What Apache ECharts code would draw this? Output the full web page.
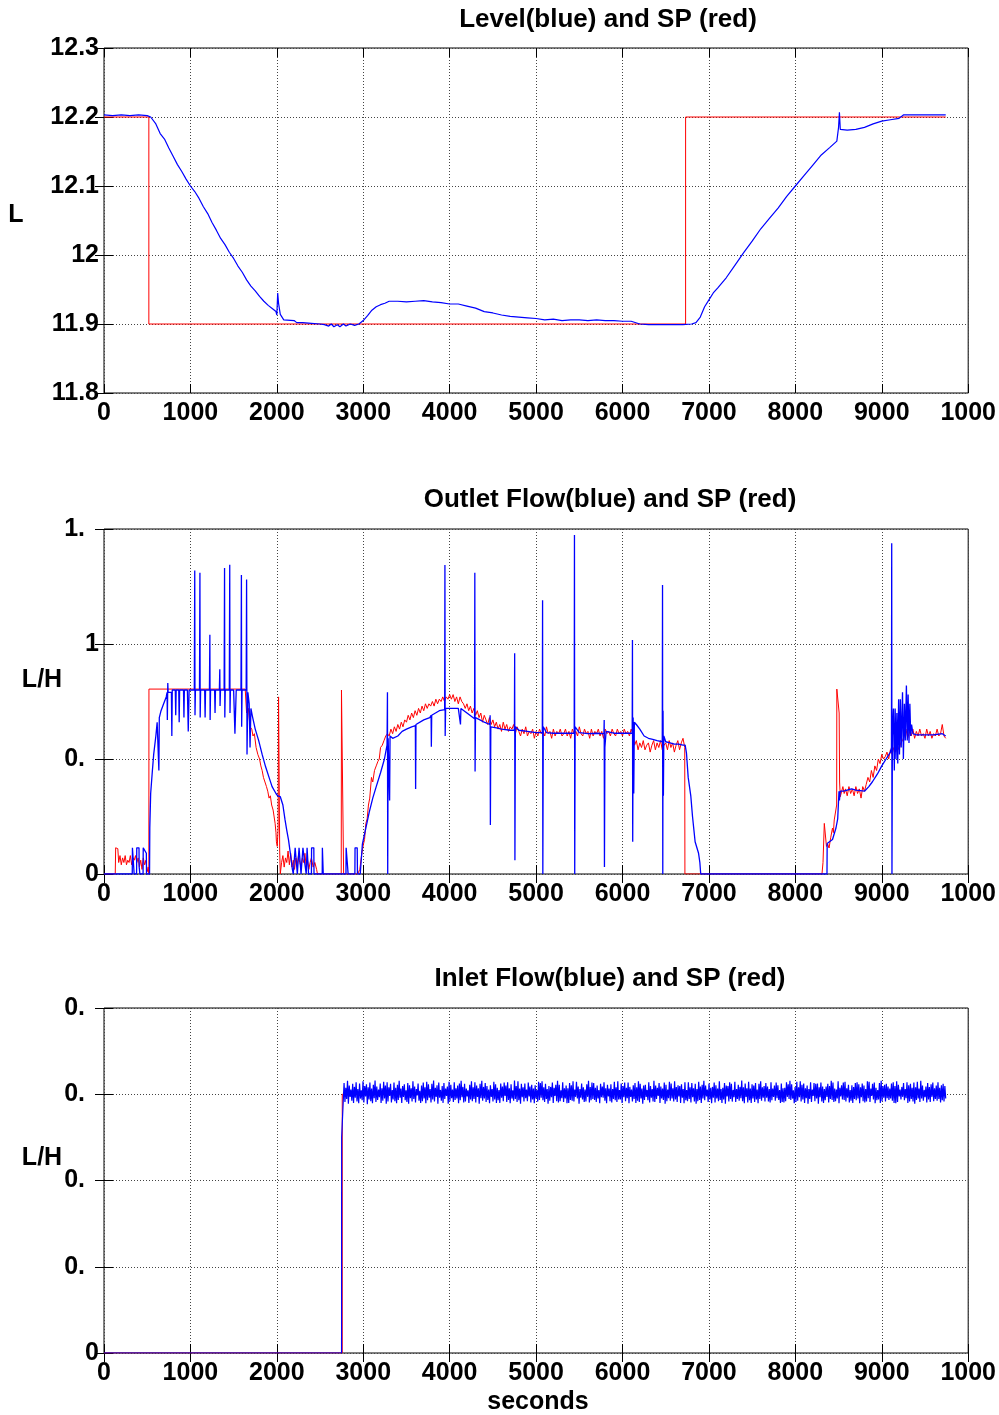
<!DOCTYPE html>
<html>
<head>
<meta charset="utf-8">
<script src="https://cdn.jsdelivr.net/npm/echarts@6/dist/echarts.min.js"></script>
<style>
html,body{margin:0;padding:0;background:#fff;}
#chart{width:999px;height:1415px;}
</style>
</head>
<body>
<div id="chart"></div>
<script>
// ---------- tick labels ----------
const xTickLabels = ['0','1000','2000','3000','4000','5000','6000','7000','8000','9000','1000'];
const levelTickLabels = ['11.8','11.9','12','12.1','12.2','12.3'];
const outletTickLabels = ['0','0.','1','1.'];
const inletTickLabels = ['0','0.','0.','0.','0.'];

// ---------- titles ----------
const titles = ['Level(blue) and SP (red)','Outlet Flow(blue) and SP (red)','Inlet Flow(blue) and SP (red)'];
const yNames = ['L','L/H','L/H'];
const xName = 'seconds';

// ---------- Level plot [seconds, value] ----------
const levelSP = [[0,12.2],[519,12.2],[519,11.9],[6730,11.9],[6730,12.2],[9740,12.2]];
const levelPV = [[0,12.203],[100,12.202],[200,12.203],[300,12.202],[400,12.203],[500,12.202],[540,12.2],[600,12.19],[650,12.176],[700,12.168],[750,12.155],[800,12.143],[850,12.131],[900,12.121],[950,12.11],[1000,12.1],[1050,12.092],[1100,12.082],[1150,12.07],[1200,12.06],[1250,12.047],[1300,12.036],[1350,12.024],[1400,12.015],[1450,12.004],[1500,11.995],[1550,11.984],[1600,11.975],[1650,11.964],[1700,11.955],[1750,11.948],[1800,11.94],[1850,11.933],[1900,11.927],[1950,11.922],[1990,11.918],[2000,11.913],[2010,11.945],[2020,11.93],[2040,11.914],[2080,11.906],[2100,11.905],[2200,11.905],[2230,11.902],[2300,11.902],[2400,11.901],[2500,11.9],[2550,11.899],[2600,11.897],[2630,11.9],[2660,11.896],[2700,11.899],[2730,11.896],[2770,11.9],[2800,11.897],[2850,11.9],[2900,11.898],[2950,11.9],[3000,11.905],[3050,11.912],[3100,11.92],[3150,11.925],[3200,11.928],[3250,11.93],[3300,11.933],[3400,11.933],[3500,11.932],[3600,11.933],[3700,11.934],[3800,11.932],[3900,11.931],[4000,11.929],[4100,11.929],[4200,11.926],[4300,11.923],[4400,11.918],[4500,11.916],[4600,11.913],[4700,11.911],[4800,11.91],[4900,11.909],[5000,11.908],[5100,11.906],[5200,11.907],[5300,11.905],[5400,11.906],[5500,11.906],[5600,11.905],[5700,11.906],[5800,11.905],[5900,11.905],[6000,11.904],[6100,11.904],[6200,11.9],[6300,11.899],[6400,11.899],[6500,11.899],[6600,11.899],[6700,11.899],[6800,11.9],[6850,11.902],[6900,11.91],[6950,11.925],[7000,11.935],[7050,11.945],[7100,11.952],[7200,11.967],[7300,11.985],[7400,12.003],[7500,12.02],[7600,12.038],[7700,12.053],[7800,12.068],[7900,12.085],[8000,12.1],[8100,12.115],[8200,12.13],[8300,12.145],[8400,12.156],[8480,12.165],[8500,12.185],[8510,12.207],[8520,12.182],[8600,12.181],[8700,12.182],[8800,12.185],[8900,12.19],[9000,12.194],[9100,12.196],[9200,12.198],[9250,12.203],[9300,12.203],[9400,12.203],[9500,12.203],[9600,12.203],[9740,12.203]];

// ---------- Outlet flow plot [seconds, value] ----------
const outletSP = [[0,0],[130,0],[135,0.114],[160,0.11],[170,0.05],[185,0.08],[200,0.04],[215,0.07],[230,0.05],[245,0.08],[260,0.04],[275,0.06],[290,0.05],[305,0.08],[320,0.04],[335,0.07],[350,0.06],[365,0.08],[380,0.05],[395,0.07],[410,0.03],[425,0.06],[440,0.02],[455,0.07],[470,0.04],[485,0.06],[500,0.01],[512,0.03],[519,0],[520,0.804],[1634,0.804],[1650,0.7],[1670,0.72],[1690,0.64],[1710,0.63],[1724,0.6],[1740,0.61],[1760,0.55],[1780,0.52],[1800,0.5],[1815,0.47],[1830,0.45],[1845,0.42],[1860,0.42],[1880,0.38],[1895,0.36],[1910,0.33],[1925,0.34],[1940,0.3],[1957,0.278],[1970,0.28],[1980,0.22],[1990,0.18],[1995,0.14],[2005,0.12],[2015,0.2],[2020,0.77],[2028,0.77],[2033,0.1],[2040,0],[2055,0.05],[2070,0.08],[2085,0.03],[2100,0.07],[2115,0.05],[2130,0.1],[2145,0.04],[2160,0.09],[2175,0.03],[2190,0.06],[2205,0.02],[2220,0.07],[2235,0.04],[2250,0.08],[2265,0.05],[2280,0.03],[2295,0.07],[2310,0.05],[2325,0.09],[2340,0.03],[2355,0.06],[2370,0.02],[2385,0.05],[2400,0.07],[2420,0.03],[2440,0.05],[2460,0.02],[2470,0],[2745,0],[2748,0.8],[2770,0.8],[2773,0],[2935,0],[2960,0.02],[2980,0.08],[3000,0.126],[3015,0.15],[3030,0.22],[3045,0.24],[3060,0.3],[3075,0.33],[3095,0.42],[3110,0.4],[3130,0.45],[3150,0.47],[3170,0.49],[3185,0.5],[3200,0.55],[3220,0.56],[3240,0.58],[3260,0.6],[3280,0.61],[3300,0.6],[3320,0.63],[3340,0.61],[3360,0.64],[3380,0.62],[3400,0.65],[3420,0.63],[3440,0.66],[3460,0.64],[3480,0.67],[3500,0.66],[3520,0.69],[3540,0.67],[3560,0.7],[3580,0.68],[3600,0.71],[3620,0.69],[3640,0.72],[3660,0.7],[3680,0.73],[3700,0.71],[3720,0.74],[3740,0.72],[3760,0.74],[3780,0.73],[3800,0.75],[3820,0.73],[3840,0.76],[3860,0.74],[3880,0.76],[3900,0.75],[3920,0.77],[3940,0.75],[3960,0.77],[3980,0.76],[4000,0.78],[4020,0.76],[4040,0.78],[4060,0.75],[4080,0.77],[4100,0.74],[4120,0.77],[4140,0.75],[4160,0.74],[4180,0.72],[4200,0.74],[4220,0.71],[4240,0.73],[4260,0.7],[4280,0.72],[4300,0.69],[4320,0.71],[4340,0.68],[4360,0.7],[4380,0.66],[4400,0.69],[4420,0.67],[4440,0.65],[4460,0.68],[4480,0.65],[4500,0.67],[4520,0.64],[4540,0.66],[4560,0.63],[4580,0.65],[4600,0.62],[4620,0.66],[4640,0.63],[4660,0.65],[4680,0.62],[4700,0.64],[4720,0.63],[4740,0.65],[4760,0.61],[4780,0.64],[4800,0.62],[4820,0.6],[4840,0.63],[4860,0.61],[4880,0.64],[4900,0.6],[4920,0.62],[4940,0.61],[4960,0.63],[4980,0.59],[5000,0.62],[5020,0.6],[5040,0.63],[5060,0.61],[5080,0.62],[5100,0.6],[5120,0.64],[5140,0.61],[5160,0.62],[5180,0.59],[5200,0.63],[5220,0.6],[5240,0.62],[5260,0.61],[5280,0.63],[5300,0.6],[5320,0.61],[5340,0.63],[5360,0.6],[5380,0.62],[5400,0.59],[5420,0.63],[5440,0.61],[5460,0.62],[5480,0.6],[5500,0.64],[5520,0.61],[5540,0.6],[5560,0.63],[5580,0.61],[5600,0.62],[5620,0.59],[5640,0.63],[5660,0.6],[5680,0.62],[5700,0.61],[5720,0.63],[5740,0.6],[5760,0.62],[5780,0.59],[5800,0.63],[5820,0.61],[5840,0.62],[5860,0.6],[5880,0.63],[5900,0.61],[5920,0.6],[5940,0.63],[5960,0.61],[5980,0.62],[6000,0.6],[6020,0.63],[6040,0.61],[6060,0.62],[6080,0.6],[6100,0.63],[6120,0.61],[6140,0.56],[6160,0.58],[6180,0.54],[6200,0.57],[6220,0.55],[6240,0.58],[6260,0.54],[6280,0.56],[6300,0.57],[6320,0.53],[6340,0.56],[6360,0.58],[6380,0.54],[6400,0.57],[6420,0.55],[6440,0.58],[6460,0.54],[6480,0.56],[6500,0.57],[6520,0.54],[6540,0.58],[6560,0.55],[6580,0.57],[6600,0.53],[6620,0.56],[6640,0.58],[6660,0.54],[6680,0.57],[6700,0.59],[6715,0.56],[6720,0.55],[6722,0],[8308,0],[8320,0.05],[8335,0.22],[8345,0.22],[8360,0.12],[8375,0.13],[8390,0.113],[8410,0.16],[8430,0.2],[8440,0.18],[8450,0.235],[8465,0.24],[8478,0.3],[8480,0.804],[8500,0.804],[8507,0.7],[8512,0.4],[8520,0.336],[8535,0.33],[8550,0.38],[8565,0.35],[8580,0.37],[8600,0.34],[8620,0.38],[8640,0.35],[8660,0.37],[8680,0.34],[8700,0.38],[8720,0.35],[8740,0.37],[8760,0.33],[8780,0.38],[8800,0.36],[8820,0.39],[8840,0.42],[8860,0.4],[8880,0.45],[8900,0.42],[8920,0.47],[8940,0.45],[8960,0.5],[8980,0.48],[9000,0.52],[9020,0.5],[9040,0.51],[9060,0.53],[9080,0.5],[9100,0.54],[9120,0.52],[9140,0.55],[9160,0.53],[9180,0.56],[9200,0.54],[9220,0.57],[9240,0.58],[9260,0.6],[9280,0.63],[9300,0.59],[9320,0.62],[9340,0.6],[9360,0.63],[9380,0.59],[9400,0.62],[9420,0.6],[9440,0.63],[9460,0.6],[9480,0.61],[9500,0.59],[9520,0.63],[9540,0.6],[9560,0.62],[9580,0.59],[9600,0.61],[9620,0.6],[9640,0.63],[9660,0.6],[9680,0.61],[9700,0.65],[9720,0.6],[9740,0.59]];

const outletPV = [[0,0],[327,0],[329,0.114],[347,0.114],[349,0],[377,0],[379,0.114],[405,0.114],[407,0.03],[415,0],[452,0],[454,0.114],[470,0.114],[475,0.1],[490,0.09],[492,0],[527,0],[530,0.2],[540,0.35],[560,0.45],[575,0.52],[600,0.6],[615,0.66],[630,0.66],[635,0.45],[640,0.68],[660,0.71],[690,0.74],[720,0.77],[730,0.79],[733,0.67],[738,0.83],[742,0.79],[780,0.79],[785,0.6],[790,0.8],[825,0.8],[830,0.69],[835,0.8],[865,0.8],[870,0.66],[875,0.8],[920,0.8],[925,0.68],[930,0.8],[965,0.8],[975,0.62],[985,0.8],[1045,0.8],[1050,1.32],[1053,0.69],[1058,0.8],[1105,0.8],[1110,1.31],[1113,0.68],[1118,0.8],[1165,0.8],[1170,0.68],[1175,0.8],[1220,0.8],[1225,1.04],[1228,0.67],[1233,0.8],[1280,0.8],[1285,0.7],[1290,0.8],[1335,0.8],[1340,0.89],[1343,0.73],[1348,0.8],[1390,0.8],[1395,1.33],[1398,0.68],[1403,0.8],[1450,0.8],[1455,1.345],[1458,0.7],[1463,0.8],[1500,0.8],[1515,0.61],[1530,0.8],[1585,0.8],[1590,1.3],[1593,0.64],[1598,0.8],[1645,0.8],[1650,1.28],[1655,0.52],[1665,0.79],[1680,0.74],[1690,0.55],[1700,0.72],[1715,0.69],[1750,0.63],[1790,0.58],[1830,0.52],[1870,0.466],[1910,0.42],[1945,0.38],[1990,0.35],[2010,0.34],[2040,0.336],[2070,0.3],[2095,0.235],[2115,0.19],[2135,0.148],[2160,0.08],[2180,0.02],[2190,0],[2210,0],[2212,0.114],[2235,0.114],[2237,0],[2255,0],[2257,0.114],[2278,0.114],[2280,0],[2300,0],[2302,0.114],[2320,0.114],[2322,0.05],[2340,0],[2348,0],[2350,0.114],[2365,0.114],[2367,0],[2400,0],[2402,0.114],[2428,0.114],[2430,0],[2525,0],[2527,0.114],[2535,0.114],[2537,0],[2800,0],[2802,0.114],[2822,0.114],[2825,0],[2903,0],[2905,0.114],[2930,0.114],[2933,0],[2965,0],[2990,0.13],[3030,0.2],[3070,0.27],[3110,0.33],[3150,0.38],[3200,0.44],[3245,0.5],[3275,0.56],[3280,0.79],[3283,0],[3288,0.59],[3300,0.594],[3305,0.32],[3310,0.6],[3340,0.59],[3400,0.6],[3450,0.62],[3500,0.63],[3560,0.64],[3603,0.645],[3606,0.37],[3610,0.65],[3700,0.67],[3770,0.68],[3785,0.69],[3788,0.553],[3792,0.69],[3880,0.71],[3942,0.715],[3945,1.343],[3948,0.6],[3953,0.72],[4010,0.72],[4100,0.72],[4122,0.72],[4125,0.65],[4130,0.72],[4200,0.7],[4288,0.675],[4291,1.31],[4294,0.446],[4299,0.68],[4350,0.67],[4400,0.66],[4465,0.65],[4468,0.69],[4471,0.213],[4476,0.64],[4540,0.635],[4600,0.63],[4700,0.625],[4749,0.625],[4752,0.96],[4755,0.06],[4760,0.64],[4800,0.625],[4900,0.62],[5000,0.615],[5072,0.615],[5075,1.19],[5078,0],[5083,0.64],[5120,0.615],[5200,0.612],[5300,0.612],[5441,0.612],[5444,1.474],[5447,0],[5452,0.64],[5500,0.615],[5600,0.61],[5700,0.612],[5785,0.61],[5788,0.67],[5791,0.03],[5796,0.55],[5810,0.62],[5900,0.612],[6000,0.612],[6112,0.612],[6115,1.017],[6118,0.14],[6123,0.68],[6130,0.35],[6137,0.66],[6160,0.65],[6200,0.63],[6250,0.6],[6300,0.59],[6350,0.585],[6400,0.58],[6460,0.575],[6463,1.257],[6466,0],[6469,0.71],[6473,0.34],[6478,0.6],[6500,0.575],[6550,0.57],[6600,0.565],[6650,0.565],[6700,0.56],[6725,0.56],[6740,0.526],[6760,0.42],[6790,0.34],[6810,0.25],[6840,0.14],[6880,0.09],[6895,0.05],[6905,0],[8366,0],[8368,0.133],[8430,0.15],[8470,0.2],[8490,0.24],[8505,0.36],[8510,0.32],[8520,0.36],[8560,0.36],[8650,0.37],[8700,0.365],[8800,0.36],[8850,0.38],[8890,0.4],[8950,0.435],[9000,0.47],[9050,0.5],[9100,0.53],[9112,0.55],[9115,1.438],[9118,0],[9123,0.6],[9135,0.72],[9145,0.45],[9155,0.72],[9165,0.5],[9175,0.7],[9185,0.48],[9195,0.76],[9205,0.52],[9215,0.76],[9225,0.55],[9240,0.79],[9250,0.5],[9262,0.74],[9272,0.58],[9285,0.82],[9295,0.58],[9305,0.78],[9315,0.57],[9325,0.74],[9335,0.6],[9345,0.65],[9360,0.61],[9400,0.605],[9500,0.605],[9600,0.605],[9700,0.61],[9740,0.6]];

// ---------- Inlet flow plot ----------
const inletSP = [[0,0],[2757,0],[2757,0.6],[9740,0.6]];
const inletPVStart = [[0,0],[2749,0],[2750,0.5],[2772,0.6]];
const inletNoiseT0 = 2778, inletNoiseT1 = 9740;
const inletNoise = [
.626,.582,.615,.589,.631,.578,.620,.594,.611,.585,
.624,.580,.617,.592,.628,.583,.612,.579,.625,.590,
.609,.586,.630,.581,.619,.595,.623,.577,.616,.588,
.627,.584,.613,.579,.622,.591,.632,.582,.618,.587,
.611,.593,.625,.580,.614,.585,.629,.590,.620,.578,
.628,.583,.616,.596,.624,.581,.610,.588,.627,.584,
.615,.579,.622,.587,.631,.592,.613,.580,.619,.594,
.623,.586,.609,.582,.626,.578,.621,.591,.614,.583,
.630,.589,.618,.581,.612,.597,.625,.585,.608,.580,
.620,.584,.627,.590,.616,.579,.629,.586,.623,.592,
.612,.581,.624,.588,.632,.583,.615,.594,.621,.578,
.627,.592,.610,.585,.619,.580,.626,.589,.613,.596,
.618,.578,.629,.584,.622,.591,.611,.582,.628,.587,
.614,.590,.620,.579,.625,.586,.631,.593,.617,.581,
.624,.583,.613,.595,.609,.580,.622,.588,.630,.584,
.616,.589,.628,.581,.620,.594,.614,.578,.624,.591,
.631,.585,.617,.590,.626,.582,.619,.587,.611,.579,
.621,.594,.612,.583,.629,.588,.623,.580,.615,.586,
.610,.580,.625,.592,.618,.584,.627,.596,.620,.582,
.628,.587,.614,.579,.623,.590,.609,.585,.632,.589,
.619,.582,.630,.586,.613,.578,.624,.593,.616,.583,
.625,.591,.611,.584,.627,.595,.618,.581,.622,.588,
.613,.579,.621,.590,.610,.583,.629,.587,.626,.592,
.630,.586,.616,.582,.624,.589,.612,.578,.619,.585,
.617,.593,.627,.580,.615,.596,.622,.584,.631,.581,
.622,.584,.609,.591,.628,.582,.614,.590,.620,.579,
.614,.580,.626,.587,.621,.585,.630,.583,.611,.594,
.629,.590,.618,.578,.612,.592,.625,.588,.616,.582,
.611,.583,.623,.594,.631,.581,.617,.586,.627,.589,
.626,.587,.615,.582,.620,.590,.610,.579,.624,.593,
.618,.592,.628,.585,.614,.579,.622,.595,.613,.584,
.623,.581,.612,.589,.629,.586,.616,.582,.630,.588,
.610,.588,.625,.580,.619,.593,.627,.584,.615,.591,
.627,.579,.617,.594,.611,.583,.621,.589,.626,.580,
.616,.585,.630,.582,.624,.590,.613,.578,.620,.587,
.622,.594,.610,.586,.628,.581,.619,.592,.612,.583,
.631,.582,.620,.589,.615,.596,.626,.580,.618,.590,
.613,.587,.627,.578,.622,.584,.611,.591,.629,.585,
.625,.590,.614,.583,.630,.588,.617,.582,.621,.595,
.619,.580,.623,.592,.612,.579,.628,.586,.610,.584,
.628,.589,.616,.581,.626,.593,.614,.583,.624,.578,
.612,.584,.629,.587,.618,.580,.622,.590,.631,.586,
.620,.595,.611,.582,.625,.588,.615,.579,.617,.592,
.627,.581,.621,.590,.613,.584,.630,.587,.612,.580,
.615,.588,.626,.578,.620,.595,.619,.583,.628,.589,
.624,.583,.610,.593,.629,.582,.612,.589,.622,.585,
.617,.591,.632,.584,.616,.579,.625,.594,.614,.581,
.629,.586,.613,.580,.623,.590,.620,.582,.626,.588,
.611,.579,.624,.589,.630,.585,.616,.592,.619,.583,
.626,.592,.618,.583,.612,.581,.628,.586,.613,.594,
.620,.585,.627,.591,.621,.587,.610,.580,.625,.582,
.614,.581,.615,.584,.628,.594,.623,.589,.631,.587,
.623,.590,.609,.579,.617,.582,.629,.585,.616,.593,
.630,.583,.622,.588,.625,.580,.614,.591,.620,.578,
.612,.589,.628,.582,.611,.596,.626,.584,.624,.590,
.625,.578,.616,.593,.627,.583,.618,.580,.612,.586,
.618,.594,.624,.581,.619,.589,.631,.587,.627,.582,
.613,.584,.611,.590,.630,.579,.615,.595,.621,.588,
.627,.587,.629,.583,.614,.592,.622,.581,.610,.585,
.621,.580,.617,.589,.626,.586,.628,.590,.623,.579,
.616,.593,.625,.584,.620,.581,.612,.583,.630,.591,
.629,.582,.613,.596,.624,.588,.627,.579,.615,.586,
.610,.588,.626,.580,.631,.584,.619,.592,.622,.583,
.624,.591,.618,.587,.613,.590,.625,.585,.628,.580,
.619,.579,.630,.582,.622,.595,.611,.588,.617,.594,
.626,.586,.612,.591,.628,.580,.621,.583,.624,.589,
.615,.583,.627,.578,.616,.587,.629,.590,.613,.582,
.631,.590,.620,.585,.610,.593,.618,.581,.626,.588,
.617,.582,.623,.594,.627,.584,.614,.589,.620,.585,
.628,.589,.615,.581,.621,.586,.624,.583,.619,.590];

const inletPV = inletPVStart.concat(inletNoise.map((v, i) =>
  [inletNoiseT0 + i * (inletNoiseT1 - inletNoiseT0) / (inletNoise.length - 1), v]));

// ---------- build chart ----------
const FONT = 'Liberation Sans';
const BLUE = '#0000ff', RED = '#ff0000';
const gridTops = [48, 529, 1008];
const GRID_LEFT = 104, GRID_W = 868, GRID_H = 345;

const yRanges = [
  {min: 11.8, max: 12.3, interval: 0.1, labels: levelTickLabels},
  {min: 0, max: 1.5, interval: 0.5, labels: outletTickLabels},
  {min: 0, max: 0.8, interval: 0.2, labels: inletTickLabels}
];

const grids = gridTops.map(t => ({
  left: GRID_LEFT, top: t, width: GRID_W, height: GRID_H,
  show: true, borderColor: '#000', borderWidth: 1, backgroundColor: '#fff',
  containLabel: false
}));

const tickStyle = {show: true, inside: true, length: 9, lineStyle: {color: '#000', width: 1}};
const splitStyle = {show: true, lineStyle: {color: '#444', width: 1, type: [1, 2]}};
const labelFont = {fontFamily: FONT, fontWeight: 'bold', fontSize: 25, color: '#000'};

const xAxes = [], yAxes = [];
gridTops.forEach((t, gi) => {
  xAxes.push({
    type: 'value', gridIndex: gi, position: 'bottom', min: 0, max: 10000, interval: 1000,
    axisLine: {show: false}, axisTick: tickStyle, splitLine: splitStyle,
    axisLabel: Object.assign({margin: 8, showMaxLabel: true, showMinLabel: true,
      formatter: v => xTickLabels[Math.round(v / 1000)]}, labelFont)
  });
  xAxes.push({
    type: 'value', gridIndex: gi, position: 'top', min: 0, max: 10000, interval: 1000,
    axisLine: {show: false}, axisTick: tickStyle, splitLine: {show: false},
    axisLabel: {show: false}
  });
  const r = yRanges[gi];
  yAxes.push({
    type: 'value', gridIndex: gi, position: 'left', min: r.min, max: r.max, interval: r.interval,
    axisLine: {show: false}, axisTick: tickStyle, splitLine: splitStyle,
    axisLabel: Object.assign({margin: 5, showMaxLabel: true, showMinLabel: true,
      formatter: v => {
        const s = r.labels[Math.round((v - r.min) / r.interval)];
        return s.endsWith('.') ? '{p|' + s + '}' : s;
      },
      rich: {p: {padding: [0, 14, 0, 0], fontFamily: FONT, fontWeight: 'bold', fontSize: 25, color: '#000'}}
    }, labelFont)
  });
  yAxes.push({
    type: 'value', gridIndex: gi, position: 'right', min: r.min, max: r.max, interval: r.interval,
    axisLine: {show: false}, axisTick: tickStyle, splitLine: {show: false},
    axisLabel: {show: false}
  });
});

function line(data, color, gi, w) {
  return {
    type: 'line', data: data, xAxisIndex: gi * 2, yAxisIndex: gi * 2,
    showSymbol: false, symbol: 'none', animation: false, silent: true,
    lineStyle: {color: color, width: w}, itemStyle: {color: color}, clip: true
  };
}

const series = [
  line(levelSP, RED, 0, 1), line(levelPV, BLUE, 0, 1.2),
  line(outletSP, RED, 1, 1), line(outletPV, BLUE, 1, 1.3),
  line(inletSP, RED, 2, 1), line(inletPV, BLUE, 2, 1.2)
];

function txt(text, x, y, size) {
  return {
    type: 'text', x: x, y: y, silent: true,
    style: {text: text, font: 'bold ' + size + 'px "' + FONT + '"', fill: '#000',
      textAlign: 'center', textVerticalAlign: 'middle', align: 'center', verticalAlign: 'middle'}
  };
}

const graphic = [
  txt(titles[0], 608, 20, 26),
  txt(titles[1], 610, 500, 26),
  txt(titles[2], 610, 979, 26),
  txt(yNames[0], 16, 215, 25),
  txt(yNames[1], 42, 680, 25),
  txt(yNames[2], 42, 1158, 25),
  txt(xName, 538, 1402, 25)
];

const chart = echarts.init(document.getElementById('chart'), null, {renderer: 'canvas', width: 999, height: 1415});
chart.setOption({
  backgroundColor: '#fff',
  animation: false,
  grid: grids,
  xAxis: xAxes,
  yAxis: yAxes,
  series: series,
  graphic: graphic
});
</script>
</body>
</html>
